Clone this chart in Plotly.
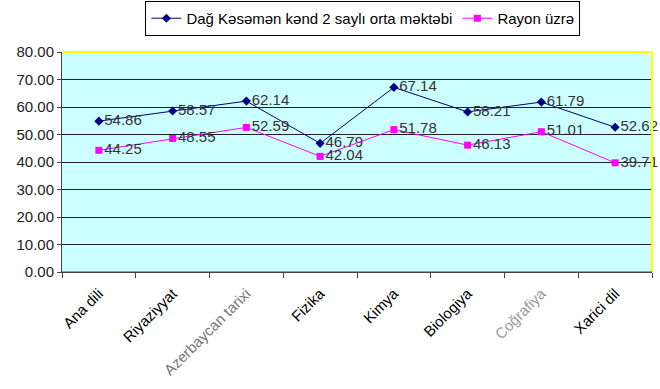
import plotly.graph_objects as go

categories = ["Ana dili", "Riyaziyyat", "Azərbaycan tarixi", "Fizika", "Kimya", "Biologiya", "Coğrafiya", "Xarici dil"]
tick_labels = ["Ana dili", "Riyaziyyat", "<span style='color:#777'>Azerbaycan tarixi</span>", "Fizika", "Kimya", "Biologiya", "<span style='color:#999'>Coğrafiya</span>", "Xarici dil"]
school = [54.86, 58.57, 62.14, 46.79, 67.14, 58.21, 61.79, 52.62]
rayon = [44.25, 48.55, 52.59, 42.04, 51.78, 46.13, 51.01, 39.71]
series_names = ["Dağ Kəsəmən kənd 2 saylı orta məktəbi", "Rayon üzrə"]
y_ticks = [0, 10, 20, 30, 40, 50, 60, 70, 80]

fig = go.Figure()
fig.add_trace(go.Scatter(
    x=categories, y=school, name=series_names[0], mode="lines+markers+text",
    line=dict(color="#000080", width=1), marker=dict(symbol="diamond", size=7, color="#000080"),
    text=[f"{v:.2f}" for v in school], textposition="middle right",
    textfont=dict(family="Arial", size=15, color="#333333"), cliponaxis=False,
))
fig.add_trace(go.Scatter(
    x=categories, y=rayon, name=series_names[1], mode="lines+markers+text",
    line=dict(color="#FF00FF", width=1), marker=dict(symbol="square", size=7, color="#FF00FF"),
    text=[f"{v:.2f}" for v in rayon], textposition="middle right",
    textfont=dict(family="Arial", size=15, color="#333333"), cliponaxis=False,
))

fig.update_layout(
    width=660, height=389,
    margin=dict(l=62, r=8, t=52, b=117, autoexpand=False),
    paper_bgcolor="white", plot_bgcolor="#CCFFFF",
    font=dict(family="Arial", size=14, color="black"),
    showlegend=True,
    legend=dict(orientation="h", x=0.51, xanchor="center", y=1.232, yanchor="top",
                bordercolor="black", borderwidth=1, bgcolor="white",
                font=dict(family="Arial", size=15, color="black"),
                itemwidth=30, tracegroupgap=0),
    xaxis=dict(type="category", categoryorder="array", categoryarray=categories,
               tickmode="array", tickvals=categories, ticktext=tick_labels,
               tickangle=-45, tickfont=dict(family="Arial", size=15, color="black"),
               ticklabelstandoff=6,
               showgrid=False, showline=True, linecolor="#444", linewidth=1,
               ticks="outside", ticklen=5, tickcolor="#444", tickson="boundaries",
               range=[-0.5, 7.5], zeroline=False, automargin=False),
    yaxis=dict(range=[0, 80], tickmode="array", tickvals=y_ticks, tickformat=".2f",
               tickfont=dict(family="Arial", size=15, color="#222"),
               showgrid=True, gridcolor="#222", gridwidth=1,
               showline=True, linecolor="#444", linewidth=1,
               ticks="outside", ticklen=4, tickcolor="#444", zeroline=False, automargin=False),
    shapes=[
        dict(type="line", xref="paper", yref="paper", x0=0, x1=1, y0=1, y1=1, line=dict(color="yellow", width=2)),
        dict(type="line", xref="paper", yref="paper", x0=1, x1=1, y0=0, y1=1, line=dict(color="yellow", width=2)),
        dict(type="line", xref="paper", yref="paper", x0=0, x1=1, y0=0, y1=0, line=dict(color="#444", width=1)),
    ],
)

fig.write_html("out.html", config={"displayModeBar": False},
               post_script="document.body.style.margin='0';document.body.style.overflow='hidden';")
